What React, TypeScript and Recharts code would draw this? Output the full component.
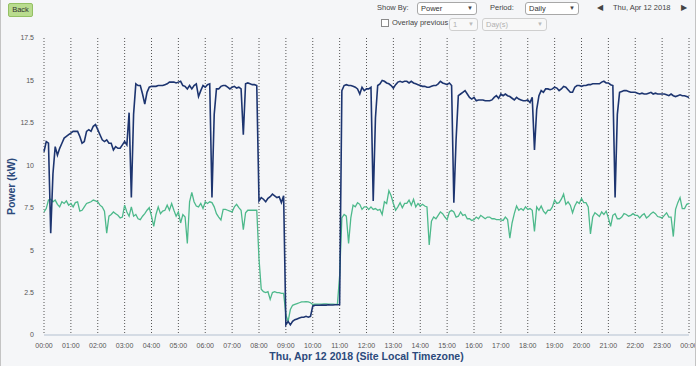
import React from 'react';
import { LineChart, Line, XAxis, YAxis, CartesianGrid } from 'recharts';

const hourTicks = [0, 1, 2, 3, 4, 5, 6, 7, 8, 9, 10, 11, 12, 13, 14, 15, 16, 17, 18, 19, 20, 21, 22, 23, 24];
const hourTickLabels = [
  '00:00', '01:00', '02:00', '03:00', '04:00', '05:00', '06:00', '07:00', '08:00', '09:00', '10:00', '11:00',
  '12:00', '13:00', '14:00', '15:00', '16:00', '17:00', '18:00', '19:00', '20:00', '21:00', '22:00', '23:00', '00:00',
];
const powerTicks = [0, 2.5, 5, 7.5, 10, 12.5, 15, 17.5];
const sampleMinutes = 5;

// 5-minute samples, one row per hour
const totalPowerKw = [
  10.8, 11.4, 11.3, 6.0, 9.5, 11.1, 10.6, 11.0, 11.3, 11.6, 11.7, 11.8,
  11.9, 12.0, 12.0, 12.0, 11.7, 11.3, 11.4, 12.0, 12.1, 12.0, 12.3, 12.4,
  12.1, 11.8, 11.5, 11.4, 11.5, 11.3, 11.3, 10.9, 11.1, 11.0, 11.0, 11.2,
  11.4, 11.2, 13.1, 8.1, 13.0, 14.8, 14.7, 14.7, 14.2, 13.6, 14.3, 14.6,
  14.65, 14.65, 14.65, 14.7, 14.7, 14.7, 14.75, 14.8, 14.9, 14.9, 14.9, 14.85,
  14.9, 14.95, 14.7, 14.65, 14.5, 14.7, 14.5, 14.7, 14.8, 14.05, 14.4, 14.7,
  14.6, 14.75, 14.8, 8.1, 13.0, 14.5, 14.5, 14.65, 14.7, 14.7, 14.6, 14.5,
  14.6, 14.65, 14.55, 14.6, 14.5, 11.8, 14.8, 14.85, 14.8, 14.75, 14.75, 14.7,
  7.9, 8.1, 8.0, 7.85, 8.05, 8.15, 8.3, 8.2, 8.1, 8.15, 7.8, 8.2,
  0.6, 0.8, 0.6, 0.8, 0.9, 0.95, 1.0, 1.05, 1.05, 1.1, 1.05, 1.1,
  1.7, 1.75, 1.75, 1.75, 1.76, 1.76, 1.76, 1.78, 1.77, 1.77, 1.78, 1.78,
  1.8, 14.4, 14.7, 14.75, 14.7, 14.7, 14.65, 14.6, 14.5, 14.2, 14.6, 14.4,
  14.5, 14.5, 14.6, 7.9, 12.8, 14.7, 14.8, 15.0, 14.95, 14.85, 14.8, 14.7,
  14.55, 14.75, 14.9, 14.95, 14.9, 14.95, 14.95, 14.85, 14.95, 14.85, 14.8, 14.75,
  14.7, 14.65, 14.65, 14.6, 14.6, 14.65, 14.7, 14.7, 14.8, 14.95, 14.85, 14.8,
  14.75, 14.85, 14.7, 7.8, 11.5, 14.1, 14.2, 14.3, 14.4, 14.2, 14.0, 13.9,
  14.0, 13.8, 13.85, 13.85, 13.85, 13.8, 13.8, 13.8, 13.85, 14.0, 14.1, 13.95,
  14.2, 14.1, 14.2, 14.1, 14.05, 13.95, 13.85, 14.0, 13.9, 13.85, 13.8, 13.8,
  13.85, 13.7, 14.0, 10.9, 13.3, 14.1, 14.4, 14.3, 14.5, 14.5, 14.45, 14.5,
  14.6, 14.55, 14.4, 14.5, 14.65, 14.6, 14.45, 14.3, 14.3, 14.6, 14.7, 14.7,
  14.65, 14.7, 14.7, 14.75, 14.75, 14.8, 14.8, 14.8, 14.8, 14.9, 14.95, 14.85,
  14.85, 14.75, 14.7, 8.1, 13.0, 14.3, 14.35, 14.4, 14.4, 14.35, 14.3, 14.3,
  14.3, 14.25, 14.2, 14.25, 14.2, 14.2, 14.25, 14.3, 14.2, 14.25, 14.2, 14.2,
  14.2, 14.2, 14.15, 14.1, 14.2, 14.1, 14.05, 14.1, 14.15, 14.1, 14.1, 14.05,
  14.0,
];

const basePowerKw = [
  7.26, 7.45, 7.95, 8.0, 7.85, 7.95, 7.7, 7.55, 7.85, 7.75, 7.9, 7.65,
  7.75, 7.55, 7.8, 7.85, 7.3, 7.35, 7.55, 7.75, 7.8, 7.85, 7.95, 7.9,
  7.85, 7.65, 7.55, 7.3, 6.0, 7.0, 7.1, 7.25, 7.15, 7.05, 6.9, 6.95,
  7.65, 7.25, 7.0, 7.55, 7.0, 7.1, 6.85, 6.8, 7.0, 7.15, 7.35, 7.5,
  7.0, 6.4, 7.1, 7.55, 7.15, 7.3, 7.35, 7.65, 7.35, 7.75, 7.35, 7.0,
  7.25, 6.6, 7.1, 6.95, 5.4, 7.85, 8.4, 7.85, 7.6, 7.55, 7.75, 7.45,
  7.85, 7.75, 7.85, 7.8, 7.55, 7.15, 6.95, 6.78, 7.4, 7.4, 7.35, 7.3,
  7.25, 7.55, 7.7, 7.5, 7.35, 6.2, 7.2, 7.35, 7.35, 7.35, 7.35, 7.35,
  4.5, 2.7, 2.55, 2.5, 2.55, 2.1, 2.5, 2.55, 2.5, 2.5, 2.45, 2.45,
  1.2, 0.8, 1.5, 1.75, 1.8, 1.85, 1.9, 1.95, 1.95, 1.97, 1.95, 1.9,
  1.8, 1.82, 1.82, 1.82, 1.82, 1.83, 1.83, 1.82, 1.82, 1.82, 1.8, 1.8,
  3.5, 6.9, 7.1, 7.0, 5.4, 6.9, 7.65, 7.55, 7.8, 7.7, 7.4, 7.55,
  7.55, 7.4, 7.55, 7.4, 7.45, 7.35, 7.4, 7.1, 7.85, 7.75, 8.5, 8.2,
  7.75, 7.35, 7.55, 7.8, 7.5, 7.75, 7.75, 7.95, 7.65, 8.0, 7.55, 7.75,
  7.6, 7.7, 7.6, 7.55, 5.3, 6.7, 6.95, 6.85, 7.05, 7.25, 7.15, 6.95,
  6.8, 7.25, 7.35, 7.25, 6.95, 7.0, 7.25, 7.05, 7.1, 6.85, 6.85, 6.75,
  6.8, 6.95, 6.85, 7.05, 6.95, 6.85, 6.95, 6.95, 6.85, 6.85, 6.8, 6.8,
  6.78, 6.75, 6.95, 6.8, 5.7, 6.6, 7.15, 7.6, 7.35, 7.45, 7.35, 7.55,
  7.4, 7.45, 7.35, 6.1, 7.55, 7.35, 7.6, 7.3, 7.15, 7.35, 7.35, 7.55,
  7.95, 7.75, 7.8, 8.0, 8.3, 7.7, 7.85, 7.65, 7.2, 7.6, 7.85, 7.75,
  8.05, 7.8, 7.8, 7.55, 5.95, 6.95, 7.2, 7.1, 6.98, 7.25, 7.1, 7.3,
  6.9, 6.4, 7.05, 7.15, 6.85, 6.85, 6.95, 7.15, 7.1, 7.0, 7.05, 7.15,
  7.05, 7.05, 6.9, 7.05, 7.15, 6.9, 7.0, 7.15, 7.25, 7.15, 6.98, 6.95,
  6.9, 7.05, 7.2, 6.95, 6.95, 5.8, 7.4, 7.8, 8.1, 7.45, 7.45, 7.7,
  7.75,
];

const data = totalPowerKw.map((v, i) => ({
  t: (i * sampleMinutes) / 60,
  total: v,
  base: basePowerKw[i],
}));

const FONT = '"Liberation Sans", Arial, sans-serif';
const NAVY = '#1d3570';
const GREEN = '#4db98b';
const TITLE = '#2c4a7c';

const ctrlText: React.CSSProperties = {
  position: 'absolute',
  fontFamily: FONT,
  fontSize: 7.5,
  color: '#444',
  lineHeight: '10px',
  whiteSpace: 'nowrap',
};

function Select({ left, top, width, label, disabled }: { left: number; top: number; width: number; label: string; disabled?: boolean }) {
  return (
    <div
      style={{
        position: 'absolute',
        left,
        top,
        width,
        height: 13,
        boxSizing: 'border-box',
        border: `1px solid ${disabled ? '#cfcfcf' : '#a8a8a8'}`,
        borderRadius: 3,
        background: disabled ? '#f8f8f8' : '#ffffff',
        fontFamily: FONT,
        fontSize: 7.5,
        color: disabled ? '#b0b0b0' : '#333',
        lineHeight: '11px',
        paddingLeft: 3,
      }}
    >
      {label}
      <span style={{ position: 'absolute', right: 3, top: 0, fontSize: 6, color: disabled ? '#bbb' : '#444' }}>▼</span>
    </div>
  );
}

export default function App() {
  return (
    <div
      style={{
        position: 'absolute',
        left: 0,
        top: 0,
        width: 696,
        height: 366,
        background: '#f5f6f8',
        overflow: 'hidden',
        boxSizing: 'border-box',
        borderLeft: '1px solid #c4c4c4',
        borderRight: '1px solid #c4c4c4',
      }}
    >
      <div
        style={{
          position: 'absolute',
          left: 7,
          top: 3,
          width: 25,
          height: 14,
          boxSizing: 'border-box',
          background: '#b9dc8e',
          border: '1px solid #94c064',
          borderRadius: 2,
          fontFamily: FONT,
          fontSize: 7.5,
          color: '#333',
          lineHeight: '12px',
          textAlign: 'center',
        }}
      >
        Back
      </div>

      <div style={{ ...ctrlText, left: 376, top: 3 }}>Show By:</div>
      <Select left={416} top={2} width={60} label="Power" />
      <div style={{ ...ctrlText, left: 489, top: 3 }}>Period:</div>
      <Select left={524} top={2} width={54} label="Daily" />
      <div style={{ ...ctrlText, left: 596, top: 3, fontSize: 8 }}>◀</div>
      <div style={{ ...ctrlText, left: 612, top: 3 }}>Thu, Apr 12 2018</div>
      <div style={{ ...ctrlText, left: 680, top: 3, fontSize: 8 }}>▶</div>

      <div
        style={{
          position: 'absolute',
          left: 380,
          top: 19,
          width: 8,
          height: 8,
          boxSizing: 'border-box',
          border: '1px solid #8a8a8a',
          background: '#fff',
        }}
      />
      <div style={{ ...ctrlText, left: 391, top: 18 }}>Overlay previous</div>
      <Select left={448} top={18} width={29} label="1" disabled />
      <Select left={481} top={18} width={65} label="Day(s)" disabled />

      <div style={{ position: 'absolute', left: 0, top: 0 }}>
        <LineChart width={696} height={366} data={data} margin={{ top: 38, right: 8, bottom: 0, left: 0 }}>
          <CartesianGrid horizontal={false} stroke="#555" strokeDasharray="1 2" />
          <XAxis
            type="number"
            dataKey="t"
            domain={[0, 24]}
            ticks={hourTicks}
            interval={0}
            tickFormatter={(v: number) => hourTickLabels[v]}
            height={31}
            tickLine={false}
            axisLine={{ stroke: '#c9d2de', strokeWidth: 1.5 }}
            tick={{ fontSize: 7, fill: '#555', fontFamily: FONT }}
            label={{
              value: 'Thu, Apr 12 2018 (Site Local Timezone)',
              position: 'insideBottom',
              offset: 6,
              fill: TITLE,
              fontSize: 10.5,
              fontWeight: 'bold',
              fontFamily: FONT,
            }}
          />
          <YAxis
            type="number"
            domain={[0, 17.5]}
            ticks={powerTicks}
            interval={0}
            width={43}
            axisLine={false}
            tickLine={false}
            tickMargin={4}
            tick={{ fontSize: 7, fill: '#555', fontFamily: FONT }}
            label={{
              value: 'Power (kW)',
              angle: -90,
              position: 'insideLeft',
              offset: 10,
              fill: TITLE,
              fontSize: 10.5,
              fontWeight: 'bold',
              fontFamily: FONT,
              style: { textAnchor: 'middle' },
            }}
          />
          <Line
            type="linear"
            dataKey="base"
            stroke={GREEN}
            strokeWidth={1.3}
            dot={false}
            isAnimationActive={false}
          />
          <Line
            type="linear"
            dataKey="total"
            stroke={NAVY}
            strokeWidth={1.6}
            dot={false}
            isAnimationActive={false}
          />
        </LineChart>
      </div>
    </div>
  );
}
